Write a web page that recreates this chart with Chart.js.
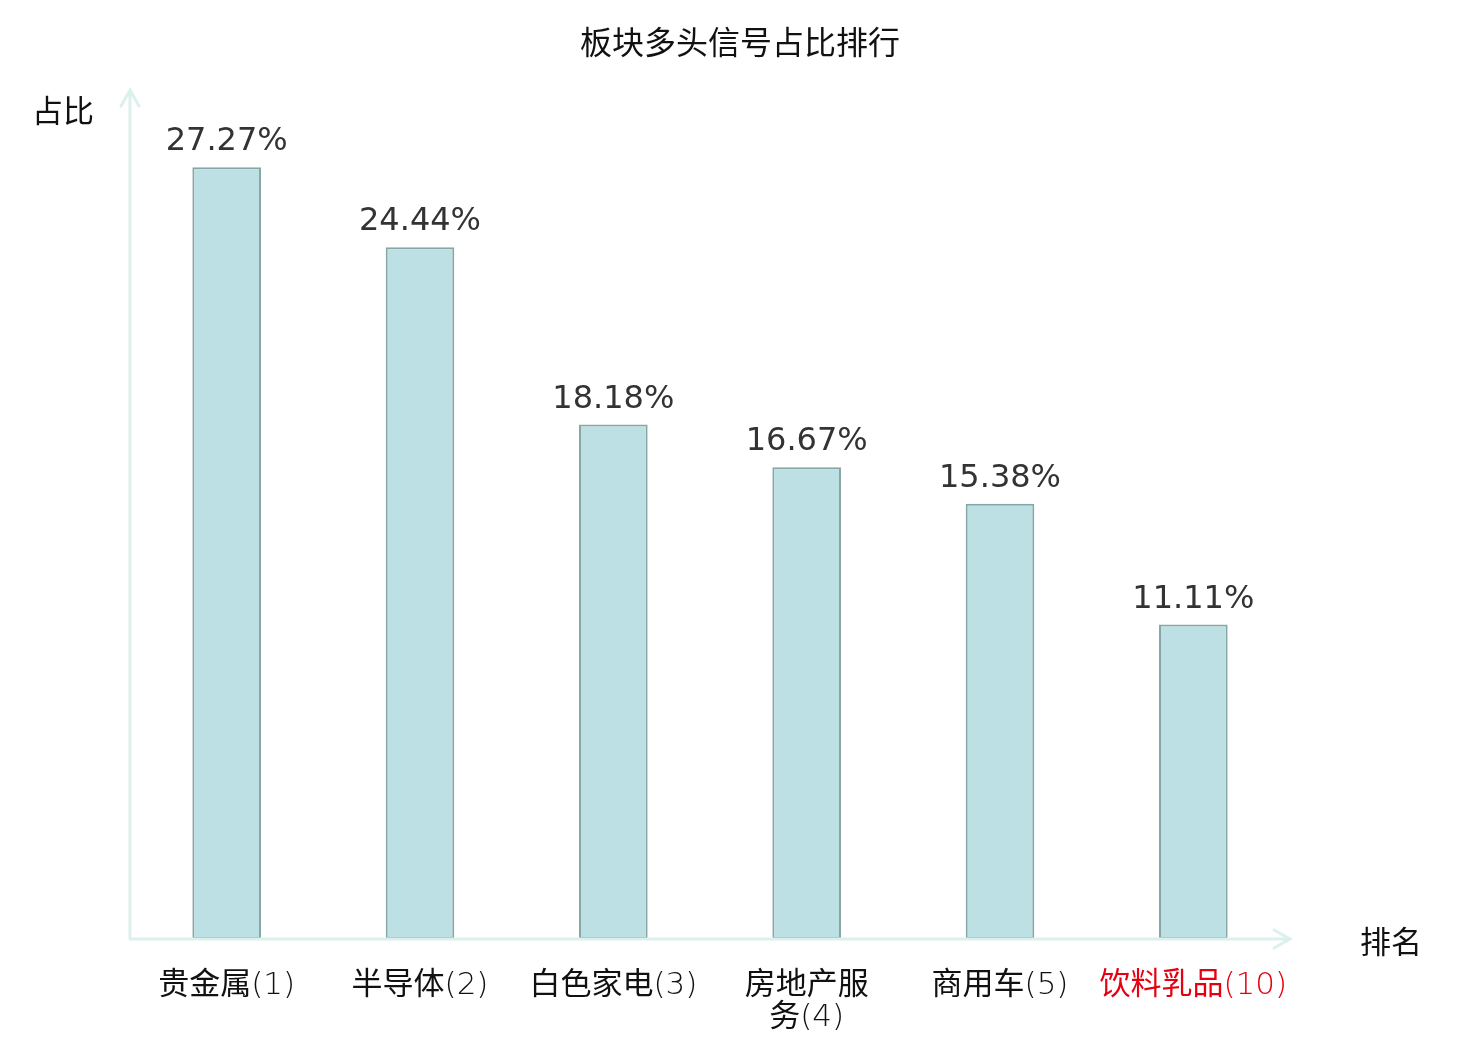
<!DOCTYPE html>
<html>
<head>
<meta charset="utf-8">
<script src="https://cdn.jsdelivr.net/npm/chart.js@4/dist/chart.umd.min.js"></script>
<style>
  html, body { margin: 0; padding: 0; background: #fff; }
  #wrap { width: 1480px; height: 1040px; }
</style>
</head>
<body>
<div id="wrap"><canvas id="sectorChart" width="1480" height="1040"></canvas></div>
<script>
// 板块多头信号占比排行 - values
const categories = [
    ['贵金属(1)'],
    ['半导体(2)'],
    ['白色家电(3)'],
    ['房地产服', '务(4)'],
    ['商用车(5)'],
    ['饮料乳品(10)']
];
const ratios = [27.27, 24.44, 18.18, 16.67, 15.38, 11.11];
const ratioLabels = ['27.27%', '24.44%', '18.18%', '16.67%', '15.38%', '11.11%'];
const labelColors = ['#111', '#111', '#111', '#111', '#111', '#e60012'];

const titleText = '板块多头信号占比排行';
const yAxisName = '占比';
const xAxisName = '排名';

const CJK = '"Noto Sans CJK SC", "DejaVu Sans", sans-serif';
const AXIS_COLOR = '#dcf1ee';

// draw a label whose CJK part is regular and "(n)" part is light DejaVu
function drawMixed(ctx, text, cx, baseY) {
    const k = text.indexOf('(');
    const head = k < 0 ? text : text.slice(0, k);
    const tail = k < 0 ? '' : text.slice(k);
    const headFont = '31px ' + CJK;
    const tailFont = '200 31px "DejaVu Sans", sans-serif';
    ctx.font = headFont;
    const wh = ctx.measureText(head).width;
    ctx.font = tailFont;
    const wt = ctx.measureText(tail).width;
    const x0 = cx - (wh + wt) / 2;
    ctx.textAlign = 'left';
    ctx.font = headFont;
    ctx.fillText(head, x0, baseY);
    ctx.font = tailFont;
    ctx.fillText(tail, x0 + wh, baseY);
    ctx.textAlign = 'center';
}

// Axes, arrows, title, value labels and category labels
const decorPlugin = {
    id: 'decor',
    afterDatasetsDraw(chart) {
        const { ctx, chartArea } = chart;
        const x = chart.scales.x;
        const y = chart.scales.y;
        const left = chartArea.left, bottom = chartArea.bottom;
        const right = chartArea.right, top = chartArea.top;

        ctx.save();
        // axis lines
        ctx.strokeStyle = AXIS_COLOR;
        ctx.lineWidth = 3;
        ctx.lineCap = 'round';
        ctx.beginPath();
        ctx.moveTo(left, bottom);
        ctx.lineTo(left, top);
        ctx.moveTo(left, bottom);
        ctx.lineTo(right, bottom);
        // arrow heads
        ctx.moveTo(left - 9, top + 16);
        ctx.lineTo(left, top);
        ctx.lineTo(left + 9, top + 16);
        ctx.moveTo(right - 16, bottom - 9);
        ctx.lineTo(right, bottom);
        ctx.lineTo(right - 16, bottom + 9);
        ctx.stroke();

        // title
        ctx.fillStyle = '#111';
        ctx.textAlign = 'center';
        ctx.textBaseline = 'middle';
        ctx.font = '32px ' + CJK;
        ctx.fillText(titleText, chart.width / 2, 42);

        // axis names
        ctx.font = '31px ' + CJK;
        ctx.fillText(yAxisName, 63, 110);
        ctx.fillText(xAxisName, 1391, 941);

        // value labels above bars
        ctx.font = '32px "DejaVu Sans", sans-serif';
        ctx.fillStyle = '#333';
        ctx.textBaseline = 'alphabetic';
        ratios.forEach((v, i) => {
            ctx.fillText(ratioLabels[i], x.getPixelForValue(i), y.getPixelForValue(v) - 17);
        });

        // category labels
        categories.forEach((lines, i) => {
            ctx.fillStyle = labelColors[i];
            lines.forEach((line, j) => {
                drawMixed(ctx, line, x.getPixelForValue(i), bottom + 55 + j * 32);
            });
        });
        ctx.restore();
    }
};

new Chart(document.getElementById('sectorChart'), {
    type: 'bar',
    data: {
        labels: categories.map(c => c.join('')),
        datasets: [{
            data: ratios,
            backgroundColor: '#bce0e3',
            borderColor: '#88a6a6',
            borderWidth: 2,
            borderSkipped: false,
            categoryPercentage: 1.0,
            barPercentage: 0.355
        }]
    },
    options: {
        responsive: false,
        animation: false,
        devicePixelRatio: 1,
        layout: {
            padding: { left: 130, right: 190, top: 90, bottom: 101 }
        },
        scales: {
            x: { display: false },
            y: { display: false, min: 0, max: 30 }
        },
        plugins: {
            legend: { display: false },
            tooltip: { enabled: false },
            title: { display: false }
        }
    },
    plugins: [decorPlugin]
});
</script>
</body>
</html>
